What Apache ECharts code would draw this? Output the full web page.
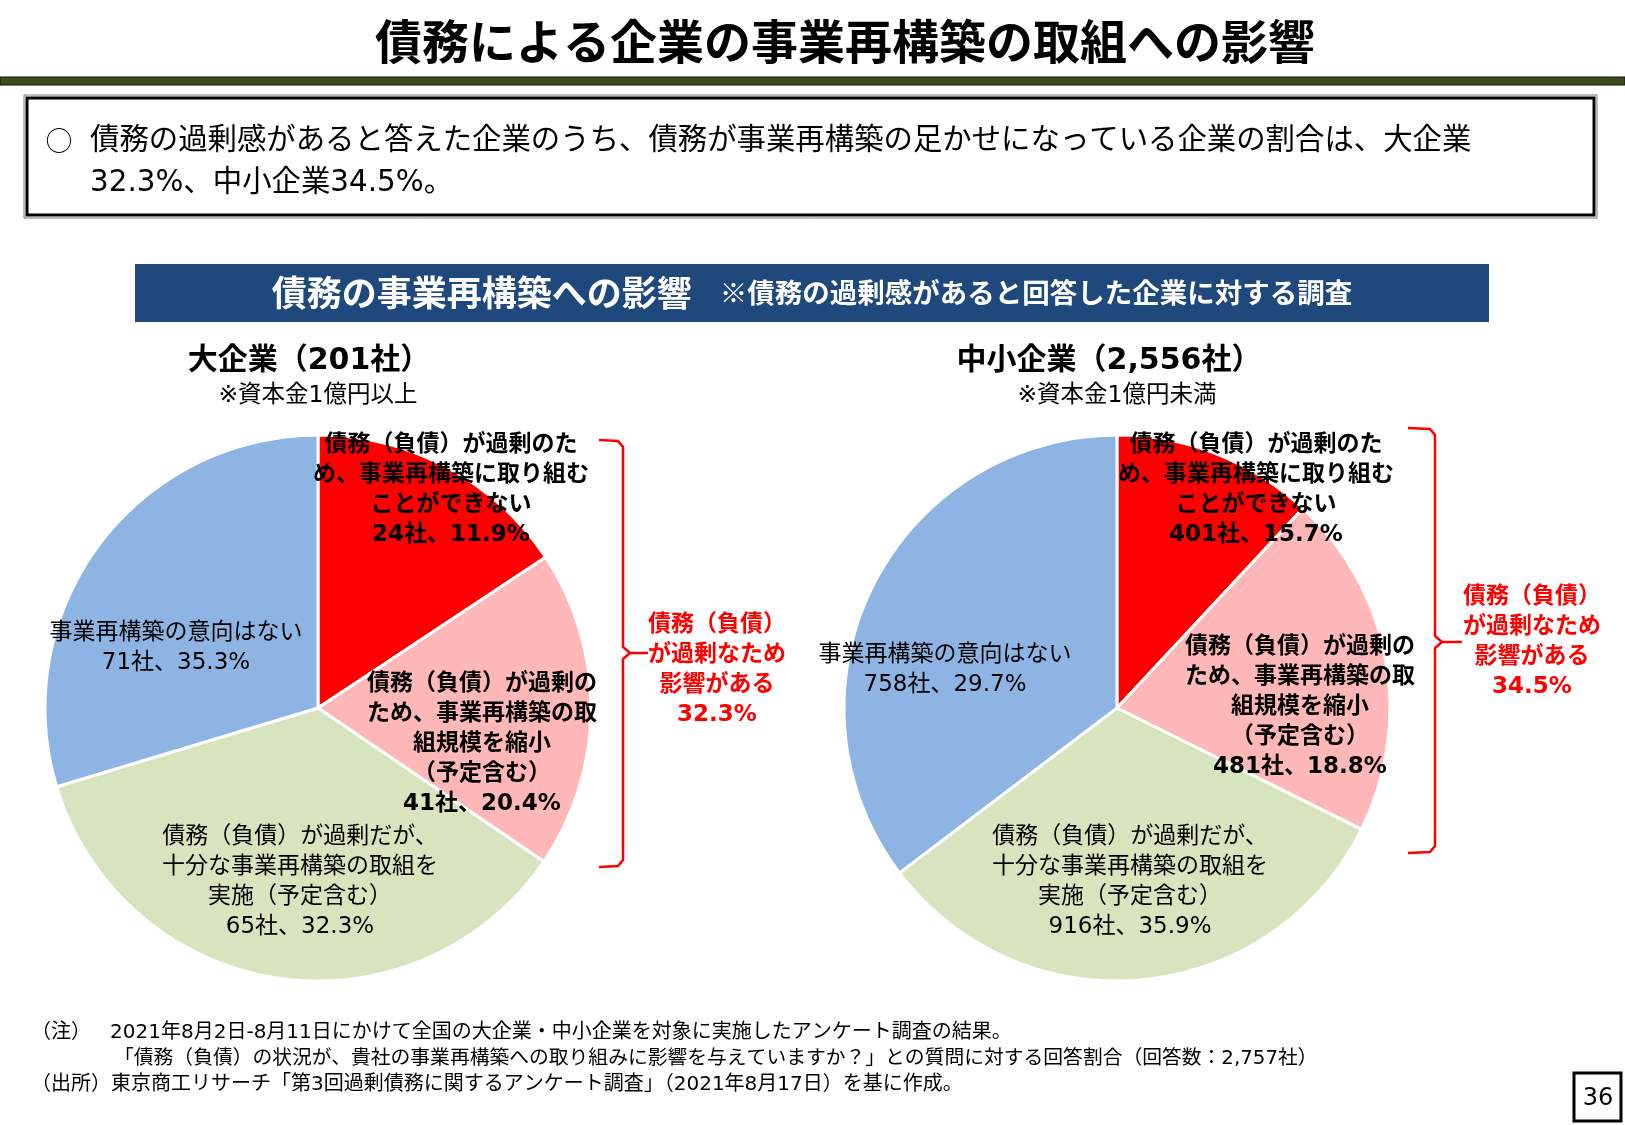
<!DOCTYPE html>
<html>
<head>
<meta charset="utf-8">
<script src="https://cdn.jsdelivr.net/npm/echarts@6/dist/echarts.min.js"></script>
<style>
  html, body { margin: 0; padding: 0; background: #fff; }
  #main { width: 1625px; height: 1125px; }
</style>
</head>
<body>
<div id="main"></div>
<script>
  // データ
  const categories = [
    '債務（負債）が過剰のた\nめ、事業再構築に取り組む\nことができない',
    '債務（負債）が過剰の\nため、事業再構築の取\n組規模を縮小\n（予定含む）',
    '債務（負債）が過剰だが、\n十分な事業再構築の取組を\n実施（予定含む）',
    '事業再構築の意向はない'
  ];
  const largeCounts = [24, 41, 65, 71];
  const largePct = [11.9, 20.4, 32.3, 35.3];
  const smeCounts = [401, 481, 916, 758];
  const smePct = [15.7, 18.8, 35.9, 29.7];
  const impactPct = [32.3, 34.5];

  // 英数字はDejaVu（Verdana風）、和文はNoto CJK
  const FONT = '"DejaVu Sans", "Noto Sans CJK JP", sans-serif';
  const colors = ['#FF0000', '#FFB7B7', '#D7E4BD', '#8EB4E3'];
  const centers = [[318, 708], [1117, 708]];
  // ラベル位置（円の中心からのずれ）
  const labelOffsets = [
    [[133, -218], [164, 36], [-18, 174], [-142, -60]],
    [[139, -218], [183, -1], [13, 174], [-172, -38]]
  ];

  // 元資料では扇形の大きさが左右の円で入れ替わっている（ラベルの数値はそのまま）
  function buildData(sliceValues, counts, pcts) {
    return sliceValues.map(function (v, i) {
      return {
        name: categories[i],
        value: v,
        count: counts[i],
        pct: pcts[i],
        itemStyle: { color: colors[i] },
        label: { fontWeight: i < 2 ? 'bold' : 'normal' }
      };
    });
  }

  function pieSeries(idx, sliceValues, counts, pcts) {
    return {
      type: 'pie',
      center: centers[idx],
      radius: 273,
      startAngle: 90,
      clockwise: true,
      silent: true,
      avoidLabelOverlap: false,
      itemStyle: { borderColor: '#fff', borderWidth: 3 },
      label: {
        show: true,
        position: 'inside',
        color: '#000',
        fontFamily: FONT,
        fontSize: 23,
        lineHeight: 30,
        align: 'center',
        formatter: function (p) {
          return p.name + '\n' + p.data.count + '社、' + p.data.pct.toFixed(1) + '%';
        }
      },
      labelLine: { show: false },
      labelLayout: function (params) {
        const off = labelOffsets[idx][params.dataIndex];
        return {
          x: centers[idx][0] + off[0],
          y: centers[idx][1] + off[1],
          align: 'center',
          verticalAlign: 'middle'
        };
      },
      emphasis: { disabled: true },
      data: buildData(sliceValues, counts, pcts)
    };
  }

  function bracket(x0, x1, top, mid, tip, bottom) {
    return [
      {
        type: 'polyline',
        shape: { points: [[x0, top], [x1 - 5, top + 1], [x1, top + 7], [x1, mid - 6], [x1 + 7, mid], [tip, mid]] },
        style: { stroke: '#FF0000', lineWidth: 2.5, fill: null }
      },
      {
        type: 'polyline',
        shape: { points: [[x1 + 7, mid], [x1, mid + 6], [x1, bottom - 7], [x1 - 5, bottom - 1], [x0, bottom]] },
        style: { stroke: '#FF0000', lineWidth: 2.5, fill: null }
      }
    ];
  }

  const graphics = [
    { type: 'text', x: 845, y: 41, style: { text: '債務による企業の事業再構築の取組への影響', font: 'bold 47px "Noto Sans CJK JP"', fill: '#000', align: 'center', verticalAlign: 'middle' } },
    { type: 'rect', shape: { x: 0, y: 77, width: 1625, height: 8 }, style: { fill: '#3C4D1F', stroke: '#111', lineWidth: 1 } },
    { type: 'rect', shape: { x: 24, y: 95, width: 1573, height: 123 }, style: { fill: '#fff', stroke: '#777', lineWidth: 1 } },
    { type: 'rect', shape: { x: 27, y: 98, width: 1567, height: 117 }, style: { fill: null, stroke: '#000', lineWidth: 3 } },
    { type: 'text', x: 59, y: 141, style: { text: '○', font: '27px "Noto Sans CJK JP"', fill: '#000', align: 'center', verticalAlign: 'middle' } },
    { type: 'text', x: 90, y: 141, style: { text: '債務の過剰感があると答えた企業のうち、債務が事業再構築の足かせになっている企業の割合は、大企業', font: '29.4px ' + FONT, fill: '#000', align: 'left', verticalAlign: 'middle' } },
    { type: 'text', x: 90, y: 183, style: { text: largePct[2].toFixed(1) + '%、中小企業' + impactPct[1].toFixed(1) + '%。', font: '29.4px ' + FONT, fill: '#000', align: 'left', verticalAlign: 'middle' } },
    { type: 'rect', shape: { x: 135, y: 264, width: 1354, height: 58 }, style: { fill: '#1F497D' } },
    {
      type: 'text', x: 812, y: 293,
      style: {
        text: '{a|債務の事業再構築への影響}{b|※債務の過剰感があると回答した企業に対する調査}',
        align: 'center', verticalAlign: 'middle',
        rich: {
          a: { fontFamily: '"Noto Sans CJK JP"', fontSize: 35, fontWeight: 'bold', fill: '#fff', padding: [0, 28, 0, 0] },
          b: { fontFamily: '"Noto Sans CJK JP"', fontSize: 27.5, fontWeight: 'bold', fill: '#fff' }
        }
      }
    },
    { type: 'text', x: 309, y: 361, style: { text: '大企業（201社）', font: 'bold 30px ' + FONT, fill: '#000', align: 'center', verticalAlign: 'middle' } },
    { type: 'text', x: 318, y: 396, style: { text: '※資本金1億円以上', font: '23.5px ' + FONT, fill: '#000', align: 'center', verticalAlign: 'middle' } },
    { type: 'text', x: 1109, y: 361, style: { text: '中小企業（2,556社）', font: 'bold 30px ' + FONT, fill: '#000', align: 'center', verticalAlign: 'middle' } },
    { type: 'text', x: 1117, y: 396, style: { text: '※資本金1億円未満', font: '23.5px ' + FONT, fill: '#000', align: 'center', verticalAlign: 'middle' } },
    { type: 'text', x: 717, y: 670, style: { text: '債務（負債）\nが過剰なため\n影響がある\n' + impactPct[0].toFixed(1) + '%', font: 'bold 23px ' + FONT, lineHeight: 30, fill: '#FF0000', align: 'center', verticalAlign: 'middle' } },
    { type: 'text', x: 1532, y: 642, style: { text: '債務（負債）\nが過剰なため\n影響がある\n' + impactPct[1].toFixed(1) + '%', font: 'bold 23px ' + FONT, lineHeight: 30, fill: '#FF0000', align: 'center', verticalAlign: 'middle' } },
    { type: 'text', x: 31, y: 1033, style: { text: '（注）   2021年8月2日-8月11日にかけて全国の大企業・中小企業を対象に実施したアンケート調査の結果。', font: '20px ' + FONT, fill: '#000', align: 'left', verticalAlign: 'middle' } },
    { type: 'text', x: 114, y: 1059, style: { text: '「債務（負債）の状況が、貴社の事業再構築への取り組みに影響を与えていますか？」との質問に対する回答割合（回答数：2,757社）', font: '19.8px ' + FONT, fill: '#000', align: 'left', verticalAlign: 'middle' } },
    { type: 'text', x: 31, y: 1085, style: { text: '（出所）東京商工リサーチ「第3回過剰債務に関するアンケート調査」（2021年8月17日）を基に作成。', font: '20px ' + FONT, fill: '#000', align: 'left', verticalAlign: 'middle' } },
    { type: 'rect', shape: { x: 1574, y: 1073, width: 47, height: 48 }, style: { fill: '#fff', stroke: '#000', lineWidth: 3 } },
    { type: 'text', x: 1598, y: 1099, style: { text: '36', font: '24px ' + FONT, fill: '#000', align: 'center', verticalAlign: 'middle' } }
  ].concat(bracket(599, 623, 440, 653, 648, 867))
   .concat(bracket(1408, 1435, 428, 642, 1462, 853));

  const myChart = echarts.init(document.getElementById('main'), null, { renderer: 'canvas' });
  myChart.setOption({
    animation: false,
    backgroundColor: '#fff',
    textStyle: { fontFamily: FONT },
    series: [
      pieSeries(0, smeCounts, largeCounts, largePct),
      pieSeries(1, largeCounts, smeCounts, smePct)
    ],
    graphic: { elements: graphics }
  });
</script>
</body>
</html>
